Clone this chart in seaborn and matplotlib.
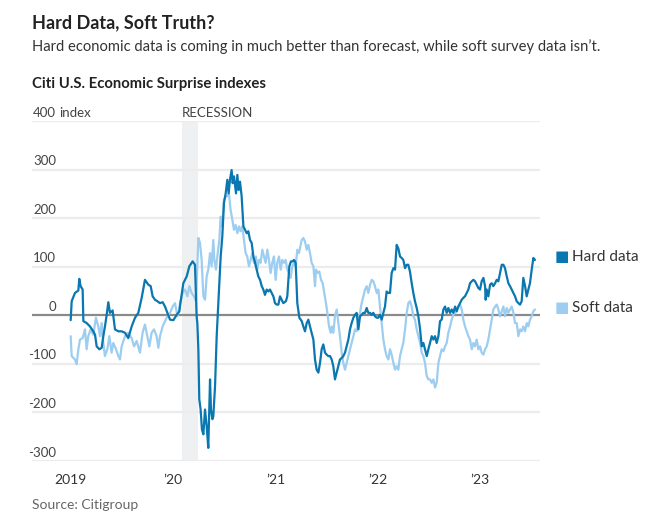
import matplotlib
matplotlib.use("Agg")
import matplotlib.pyplot as plt
import matplotlib.transforms as mtransforms
import numpy as np
import pandas as pd
import seaborn as sns

# decimal years since 2019-01-01
hard_t = [0.000, 0.010, 0.042, 0.075, 0.084, 0.097, 0.117, 0.124, 0.156, 0.189,
          0.221, 0.238, 0.254, 0.280, 0.303, 0.319, 0.335, 0.352, 0.368, 0.384,
          0.410, 0.433, 0.466, 0.498, 0.531, 0.563, 0.596, 0.629, 0.661, 0.694,
          0.726, 0.759, 0.782, 0.801, 0.824, 0.847, 0.873, 0.899, 0.922, 0.945,
          0.971, 1.004, 1.036, 1.062,
          1.068, 1.101, 1.134, 1.160, 1.192, 1.215, 1.231, 1.238, 1.248, 1.257,
          1.270, 1.283, 1.297, 1.313, 1.329, 1.345, 1.362, 1.371, 1.385, 1.394,
          1.411, 1.427, 1.437, 1.453, 1.466, 1.482, 1.498, 1.515, 1.531, 1.544,
          1.557, 1.573, 1.583, 1.596, 1.616, 1.629, 1.642, 1.655, 1.671, 1.688,
          1.704, 1.720, 1.736, 1.753, 1.769, 1.786, 1.802, 1.818, 1.834, 1.851,
          1.867, 1.883, 1.899, 1.916, 1.932, 1.948, 1.964, 1.981, 1.997, 2.013,
          2.030, 2.046, 2.062, 2.078, 2.104, 2.117, 2.137, 2.153, 2.170, 2.183,
          2.199, 2.215, 2.235,
          2.258, 2.274, 2.290, 2.307, 2.323, 2.339, 2.355, 2.372, 2.388, 2.404,
          2.421, 2.437, 2.453, 2.469, 2.486, 2.502, 2.518, 2.535, 2.551, 2.567,
          2.583, 2.600, 2.616, 2.632, 2.649, 2.665, 2.681, 2.697, 2.714, 2.730,
          2.746, 2.763, 2.779, 2.795, 2.812, 2.828, 2.844, 2.860, 2.877, 2.893,
          2.909, 2.926, 2.942, 2.958, 2.974, 2.991, 3.007, 3.023, 3.040, 3.056,
          3.072, 3.088, 3.105, 3.121, 3.137, 3.154, 3.170, 3.186, 3.202, 3.219,
          3.235, 3.251, 3.268, 3.284, 3.300, 3.316, 3.333, 3.349, 3.365, 3.382,
          3.398,
          3.415, 3.431, 3.447, 3.463, 3.480, 3.496, 3.512, 3.529, 3.545, 3.561,
          3.577, 3.594, 3.610, 3.626, 3.643, 3.659, 3.675, 3.691, 3.708, 3.724,
          3.740, 3.757, 3.773, 3.789, 3.806, 3.822, 3.838, 3.854, 3.871, 3.887,
          3.903, 3.920, 3.936, 3.952, 3.968, 3.985, 4.001, 4.017, 4.034, 4.050,
          4.056, 4.066, 4.082, 4.099, 4.115, 4.131, 4.148, 4.164, 4.180, 4.196,
          4.213, 4.229, 4.245, 4.262, 4.278, 4.294, 4.310, 4.327, 4.343, 4.359,
          4.376, 4.392, 4.408, 4.424, 4.441, 4.457, 4.473, 4.489, 4.506, 4.522,
          4.538]
hard_v = [-10, 29, 46, 51, 75, 60, 53, -12, -16, -23,
          -33, -40, -64, -70, -67, -43, -23, 1, 27, 5,
          10, -29, -33, -33, -36, -47, -23, -5, 5, 36,
          73, 63, 60, 39, 32, 29, 25, 27, 18, 5,
          -9, -10, 1, 8,
          18, 66, 80, 101, 111, 104, -2, -16, -70, -173,
          -194, -235, -245, -194, -228, -273, -132, -194, -214, -208,
          -146, -43, -2, 66, 121, 162, 231, 251, 279, 251,
          279, 299, 272, 286, 251, 289, 258, 275, 245, 183,
          176, 169, 173, 155, 149, 121, 108, 94, 80, 73,
          60, 53, 42, 53, 49, 53, 46, 39, 25, 22,
          22, 39, 32, 25, 29, 39, 101, 111, 111, 114,
          108, 25, -5,
          -12, -23, -33, -16, -9, -23, -36, -50, -91, -112,
          -118, -98, -70, -60, -77, -81, -84, -84, -91, -105,
          -132, -118, -105, -91, -88, -84, -77, -64, -50, -29,
          -16, -5, 1, 5, -29, -2, 1, 5, 5, 15,
          5, 5, 1, 5, -2, -5, -5, 1, -9, 5,
          18, 49, 46, 46, 87, 97, 94, 145, 138, 121,
          118, 114, 97, 104, 104, 90, 66, 46, 29, 15,
          -2,
          -29, -64, -57, -70, -84, -70, -57, -43, -50, -43,
          -57, -43, -12, -9, 12, 18, 5, 15, 5, 12,
          5, 18, 8, 18, 25, 32, 36, 39, 46, 53,
          66, 70, 73, 70, 63, 56, 53, 70, 77, 60,
          32, 53, 39, 63, 66, 60, 66, 73, 70, 87,
          104, 104, 97, 80, 66, 60, 53, 46, 39, 29,
          25, 22, 29, 77, 60, 39, 53, 66, 94, 118,
          114]

soft_t = [0.000, 0.010, 0.042, 0.058, 0.075, 0.091, 0.117, 0.140, 0.156, 0.172,
          0.195, 0.221, 0.247, 0.270, 0.287, 0.303, 0.319, 0.335, 0.358, 0.378,
          0.400, 0.417, 0.443, 0.466, 0.482, 0.498, 0.531, 0.563, 0.596, 0.619,
          0.645, 0.677, 0.703, 0.726, 0.749, 0.769, 0.791, 0.814, 0.840, 0.857,
          0.873, 0.899, 0.922, 0.945, 0.971, 0.997, 1.020, 1.043, 1.062,
          1.068, 1.094, 1.117, 1.140, 1.160, 1.182, 1.205, 1.225, 1.248, 1.264,
          1.280, 1.297, 1.313, 1.329, 1.345, 1.362, 1.378, 1.394, 1.404, 1.420,
          1.433, 1.453, 1.466, 1.482, 1.498, 1.515, 1.531, 1.547, 1.563, 1.580,
          1.596, 1.612, 1.629, 1.645, 1.661, 1.677, 1.694, 1.710, 1.726, 1.742,
          1.759, 1.775, 1.791, 1.811, 1.824, 1.840, 1.856, 1.873, 1.889, 1.905,
          1.922, 1.938, 1.954, 1.970, 1.987, 2.003, 2.019, 2.036, 2.052, 2.068,
          2.085, 2.101, 2.117, 2.133, 2.150, 2.166, 2.182, 2.199, 2.215, 2.231,
          2.258, 2.274, 2.290, 2.307, 2.323, 2.339, 2.355, 2.372, 2.388, 2.398,
          2.411, 2.430, 2.447, 2.463, 2.479, 2.495, 2.509, 2.525, 2.541, 2.551,
          2.567, 2.583, 2.600, 2.632, 2.649, 2.665, 2.681, 2.697, 2.714, 2.730,
          2.746, 2.763, 2.779, 2.795, 2.812, 2.828, 2.844, 2.860, 2.877, 2.893,
          2.909, 2.926, 2.942, 2.958, 2.974, 2.991, 3.007, 3.023, 3.040, 3.056,
          3.072, 3.088, 3.105, 3.121, 3.137, 3.154, 3.170, 3.186, 3.202, 3.219,
          3.235, 3.251, 3.268, 3.284, 3.300, 3.316, 3.333, 3.349, 3.365, 3.382,
          3.398,
          3.415, 3.431, 3.447, 3.463, 3.480, 3.496, 3.512, 3.529, 3.545, 3.561,
          3.577, 3.594, 3.610, 3.626, 3.643, 3.659, 3.675, 3.691, 3.708, 3.724,
          3.740, 3.757, 3.773, 3.789, 3.806, 3.822, 3.838, 3.854, 3.871, 3.887,
          3.903, 3.920, 3.936, 3.952, 3.968, 3.985, 4.001, 4.017, 4.034, 4.050,
          4.066, 4.082, 4.099, 4.115, 4.131, 4.148, 4.164, 4.180, 4.196, 4.213,
          4.229, 4.245, 4.262, 4.278, 4.294, 4.310, 4.327, 4.343, 4.359, 4.376,
          4.392, 4.408, 4.424, 4.441, 4.457, 4.473, 4.489, 4.506, 4.522, 4.538]
soft_v = [-43, -84, -91, -101, -70, -50, -47, -29, -70, -43,
          -29, -40, -5, -23, -43, -16, -57, -84, -70, -43,
          -77, -57, -70, -84, -91, -64, -43, -36, -47, -64,
          -53, -77, -36, -19, -43, -64, -36, -29, -43, -67,
          -43, -23, -12, -2, 5, 18, 25, -2, 12,
          25, 46, 53, 39, 60, 46, 39, 29, 159, 149,
          114, 39, 32, 80, 94, 128, 101, 155, 114, 94,
          121, 155, 203, 183, 238, 245, 245, 251, 217, 197,
          176, 186, 169, 183, 173, 183, 155, 128, 121, 101,
          114, 128, 108, 121, 94, 114, 108, 135, 121, 108,
          135, 114, 87, 108, 121, 73, 108, 121, 94, 114,
          108, 114, 94, 87, 77, 101, 108, 101, 135, 128,
          155, 159, 152, 135, 145, 128, 108, 101, 60, 94,
          87, 90, 73, 66, 46, 25, 5, -23, -36, -23,
          -36, -2, 12, -43, -77, -98, -112, -98, -84, -70,
          -57, -43, -29, -33, -9, 5, 25, 39, 53, 60,
          46, 63, 73, 70, 60, 46, 53, 18, -16, -50,
          -70, -84, -91, -70, -81, -98, -112, -105, -112, -84,
          -70, -57, -29, 5, 25, 29, 18, -2, -9, -29,
          -43,
          -57, -77, -84, -98, -125, -132, -132, -139, -132, -149,
          -139, -98, -84, -70, -74, -64, -57, -36, -23, -9,
          1, 5, 12, 18, 22, 12, -9, -23, -33, -43,
          -50, -70, -57, -64, -50, -70, -64, -77, -81, -70,
          -64, -50, -29, -9, 12, 18, 22, 12, -2, 8,
          18, -2, 15, 5, 12, 18, 5, -16, -16, -43,
          -29, -33, -23, -33, -16, -23, -9, -2, 8, 12]

year_ticks = [2019, 2020, 2021, 2022, 2023]
year_labels = ["2019", "\u201920", "\u201921", "\u201922", "\u201923"]
y_ticks = [400, 300, 200, 100, 0, -100, -200, -300]
recession = ("2020-02-01", "2020-04-01")

HARD = "#0a77b0"
SOFT = "#9dcdf0"


def to_dates(t):
    return pd.Timestamp("2019-01-01") + pd.to_timedelta(np.array(t) * 365.25, unit="D")


hard = pd.DataFrame({"date": to_dates(hard_t), "value": hard_v})
soft = pd.DataFrame({"date": to_dates(soft_t), "value": soft_v})

sns.set_style("white")
plt.rcParams["font.family"] = ["Lato", "DejaVu Sans"]

fig = plt.figure(figsize=(6.7, 5.23), dpi=100)
ax = fig.add_axes([32 / 670, 1 - 461 / 523, 508 / 670, 340 / 523])

ax.axvspan(pd.Timestamp(recession[0]), pd.Timestamp(recession[1]),
           color="#eff0f2", lw=0, zorder=0)
for v in y_ticks:
    if v != 0:
        ax.axhline(v, color="#ececec", lw=1.6, zorder=1)
ax.axhline(0, color="#8a8a8a", lw=1.6, zorder=2)

sns.lineplot(data=soft, x="date", y="value", color=SOFT, lw=1.6, ax=ax, zorder=3)
sns.lineplot(data=hard, x="date", y="value", color=HARD, lw=1.6, ax=ax, zorder=4)

ax.set_ylim(-300, 400)
ax.set_xlim(to_dates([-0.378])[0], to_dates([4.587])[0])
for s in ax.spines.values():
    s.set_visible(False)
ax.set_yticks([])
ax.set_xlabel("")
ax.set_ylabel("")
ax.set_xticks([pd.Timestamp(f"{y}-01-01") for y in year_ticks])
ax.set_xticklabels(year_labels, fontsize=10, color="#333333")
ax.tick_params(axis="x", length=4, width=1, color="#333333", pad=5, direction="out")

trans = mtransforms.blended_transform_factory(ax.transAxes, ax.transData)
lab_x = 24 / 508
for v in y_ticks:
    ax.text(lab_x, v + 5, str(v), transform=trans, ha="right", va="bottom",
            fontsize=9.5, color="#444444")
ax.text(lab_x + 3 / 508, 405, "index", transform=trans, ha="left", va="bottom",
        fontsize=9.5, color="#444444")
ax.text(pd.Timestamp("2020-02-01"), 405, "RECESSION", ha="left", va="bottom",
        fontsize=9.5, color="#444444")

# end labels
ax.text(1.028, hard_v[-1] + 6, "\u25a0", transform=trans, ha="left", va="center",
        fontsize=11, color=HARD, clip_on=False)
ax.text(1.063, hard_v[-1] + 6, "Hard data", transform=trans, ha="left", va="center",
        fontsize=11, color="#333333", clip_on=False)
ax.text(1.028, soft_v[-1] + 4, "\u25a0", transform=trans, ha="left", va="center",
        fontsize=11, color=SOFT, clip_on=False)
ax.text(1.063, soft_v[-1] + 4, "Soft data", transform=trans, ha="left", va="center",
        fontsize=11, color="#333333", clip_on=False)

fig.text(32 / 670, 1 - 28 / 523, "Hard Data, Soft Truth?", fontsize=13,
         fontweight="bold", color="#222222", ha="left", va="baseline")
fig.text(32 / 670, 1 - 51 / 523,
         "Hard economic data is coming in much better than forecast, while soft survey data isn\u2019t.",
         fontsize=10.6, color="#333333", ha="left", va="baseline")
fig.text(32 / 670, 1 - 88 / 523, "Citi U.S. Economic Surprise indexes", fontsize=10.7,
         fontweight="bold", color="#222222", ha="left", va="baseline")
fig.text(32 / 670, 1 - 509 / 523, "Source: Citigroup", fontsize=10,
         color="#666666", ha="left", va="baseline")

fig.savefig("out.png", dpi=100)
